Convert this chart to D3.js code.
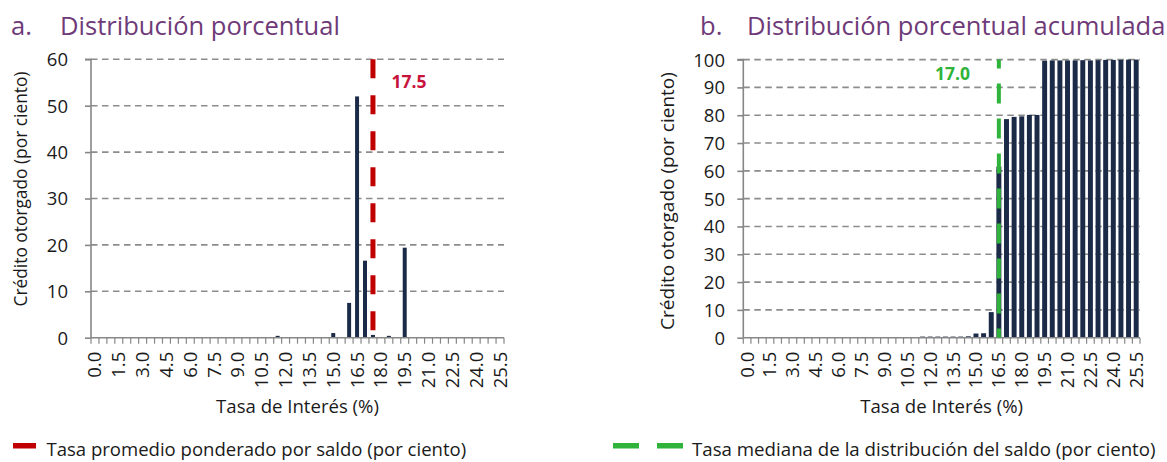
<!DOCTYPE html>
<html><head><meta charset="utf-8">
<script src="https://cdn.jsdelivr.net/npm/d3@7"></script>
<style>
body{margin:0;background:#fff}
svg{display:block}
text{font-family:"Open Sans",sans-serif;fill:#1a1a1a}
</style>
</head><body>
<svg id="c" width="1167" height="462"></svg>
<script>
// ---------- DATA ----------
const categories = ["0.0","0.5","1.0","1.5","2.0","2.5","3.0","3.5","4.0","4.5","5.0","5.5","6.0","6.5","7.0","7.5","8.0","8.5","9.0","9.5","10.0","10.5","11.0","11.5","12.0","12.5","13.0","13.5","14.0","14.5","15.0","15.5","16.0","16.5","17.0","17.5","18.0","18.5","19.0","19.5","20.0","20.5","21.0","21.5","22.0","22.5","23.0","23.5","24.0","24.5","25.0","25.5"];
const tickLabels = ["0.0","1.5","3.0","4.5","6.0","7.5","9.0","10.5","12.0","13.5","15.0","16.5","18.0","19.5","21.0","22.5","24.0","25.5"];
// a. Distribución porcentual
const pctValues = [0,0,0,0,0,0,0,0,0,0,0,0,0,0,0,0,0,0,0,0,0,0,0,0.4,0,0,0,0,0,0,1.0,0,7.5,52.0,16.6,0.6,0.1,0.4,0,19.4,0,0,0,0,0,0,0,0.1,0,0,0,0];
// b. Distribución porcentual acumulada
const cumValues = [0,0,0,0,0,0,0,0,0,0,0,0,0,0,0,0,0,0,0,0,0,0,0,0.4,0.4,0.4,0.4,0.4,0.4,0.5,1.5,1.6,9.2,61.5,78.6,79.4,79.6,80.1,80.1,99.6,99.7,99.7,99.7,99.7,99.8,99.7,99.8,99.9,99.9,99.9,100,100];
const pctTicks = [0,10,20,30,40,50,60];
const cumTicks = [0,10,20,30,40,50,60,70,80,90,100];
const meanCategory = "17.5", meanLabel = "17.5";
const medianCategory = "16.5", medianLabel = "17.0";
const titleA = ["a.","Distribución porcentual"];
const titleB = ["b.","Distribución porcentual acumulada"];
const yTitle = "Crédito otorgado (por ciento)";
const xTitle = "Tasa de Interés (%)";
const legendMean = "Tasa promedio ponderado por saldo (por ciento)";
const legendMedian = "Tasa mediana de la distribución del saldo (por ciento)";

// ---------- STYLE ----------
const BAR = "#1b2a47", AXIS = "#878787", GRID = "#8c8c8c";
const RED = "#c00000", REDTXT = "#c8143c", GREEN = "#2fb33a", PURPLE = "#6e3a78";
const svg = d3.select("#c");

function fit(sel, target){
  const w = sel.node().getComputedTextLength();
  const fs = parseFloat(sel.attr("font-size"));
  sel.attr("font-size", fs*target/w);
  return fs*target/w;
}

function panel(o){
  const g = svg.append("g");
  const slot = d3.scaleBand().domain(categories).range([o.x0,o.x1]);
  const bars = d3.scaleBand().domain(categories).range([o.x0,o.x1]).paddingInner(o.pad).paddingOuter(o.pad/2);
  const y = d3.scaleLinear().domain([0,o.max]).range([o.yb,o.yt]);

  // grid
  g.append("g").selectAll("line").data(o.ticks.filter(t=>t>0)).join("line")
    .attr("x1",o.x0).attr("x2",o.x1).attr("y1",d=>y(d)).attr("y2",d=>y(d))
    .attr("stroke",GRID).attr("stroke-width",1.6).attr("stroke-dasharray","6.5,4.5");

  // bars
  g.append("g").selectAll("rect").data(categories.map((c,i)=>({c,v:o.values[i]}))).join("rect")
    .attr("x",d=>bars(d.c)).attr("width",bars.bandwidth())
    .attr("y",d=>y(d.v)).attr("height",d=>y(0)-y(d.v)).attr("fill",BAR);

  // y axis
  const ya = g.append("g").attr("transform",`translate(${o.x0},0)`)
    .call(d3.axisLeft(y).tickValues(o.ticks).tickSize(6).tickFormat(d3.format("d")));
  ya.select(".domain").attr("stroke",AXIS).attr("stroke-width",1.6).attr("d",`M-6,${y(o.max)}H0V${y(0)}`);
  ya.selectAll(".tick line").attr("stroke",AXIS).attr("stroke-width",1.6);
  ya.selectAll(".tick text").attr("x",-(o.x0-o.ylabX)).attr("font-size",18.5)
    .attr("font-family","Open Sans").attr("fill","#1a1a1a").attr("dy","0.35em");

  // x axis line + boundary ticks
  const bounds = categories.map(c=>slot(c)).concat([o.x1]);
  g.append("line").attr("x1",o.x0).attr("x2",o.x1).attr("y1",y(0)).attr("y2",y(0))
    .attr("stroke",AXIS).attr("stroke-width",1.6);
  g.append("g").selectAll("line").data(bounds).join("line")
    .attr("x1",d=>d).attr("x2",d=>d).attr("y1",y(0)).attr("y2",y(0)+6)
    .attr("stroke",AXIS).attr("stroke-width",1.2);
  g.append("g").selectAll("text").data(tickLabels).join("text")
    .attr("transform",d=>`translate(${slot(d)+slot.bandwidth()/2},${y(0)+14}) rotate(-90)`)
    .attr("text-anchor","end").attr("dy","0.35em").attr("font-size",18.5).attr("fill","#1a1a1a")
    .text(d=>d);

  // axis titles
  const xt = g.append("text").attr("x",(o.x0+o.x1)/2).attr("y",413).attr("text-anchor","middle")
    .attr("font-size",18).text(xTitle);
  fit(xt,o.xTitleW);
  const yt = g.append("text").attr("transform",`translate(${o.yTitleX},${o.yTitleY}) rotate(-90)`)
    .attr("text-anchor","middle").attr("dy","0.35em").attr("font-size",18).text(yTitle);
  fit(yt,o.yTitleW);

  // reference line
  const lx = slot(o.refCat)+slot.bandwidth()/2;
  g.append("line").attr("x1",lx).attr("x2",lx).attr("y1",y(o.max)).attr("y2",y(0))
    .attr("stroke",o.refColor).attr("stroke-width",o.refW).attr("stroke-dasharray",o.refDash)
    .attr("stroke-dashoffset",o.refOff);
  g.append("text").attr("x",o.refLabX).attr("y",o.refLabY).attr("font-size",17.5).attr("font-weight",700)
    .style("fill",o.refTxt).text(o.refLabel);

  // title
  const t1 = g.append("text").attr("x",o.titleX1).attr("y",35).attr("font-size",25).style("fill",PURPLE).text(o.title[0]);
  const t2 = g.append("text").attr("x",o.titleX2).attr("y",35).attr("font-size",25).style("fill",PURPLE).text(o.title[1]);
  return {t1,t2};
}

const A = panel({x0:91,x1:504,yt:59.3,yb:337.7,max:60,ticks:pctTicks,values:pctValues,pad:0.5,ylabX:68,
  xTitleW:163,yTitleX:21,yTitleY:189,yTitleW:235,refCat:meanCategory,refColor:RED,refW:5,refDash:"19,17",refOff:0,
  refLabX:391.5,refLabY:87.5,refTxt:REDTXT,refLabel:meanLabel,title:titleA,titleX1:11,titleX2:60});
const B = panel({x0:743.3,x1:1140,yt:59.6,yb:337.7,max:100,ticks:cumTicks,values:cumValues,pad:0.35,ylabX:725,
  xTitleW:163,yTitleX:667,yTitleY:201,yTitleW:258,refCat:medianCategory,refColor:GREEN,refW:4,refDash:"20,15",refOff:11,
  refLabX:935,refLabY:80,refTxt:GREEN,refLabel:medianLabel,title:titleB,titleX1:700,titleX2:747});
const fsT = fit(A.t2,280);
B.t2.attr("font-size",fsT); A.t1.attr("font-size",fsT); B.t1.attr("font-size",fsT);

// legend
const lg = svg.append("g");
lg.append("rect").attr("x",13).attr("y",443).attr("width",23).attr("height",5.5).attr("fill",RED);
const l1 = lg.append("text").attr("x",46.5).attr("y",456).attr("font-size",18).text(legendMean);
fit(l1,420);
lg.selectAll(".gd").data([613,657]).join("rect").attr("class","gd")
  .attr("x",d=>d).attr("y",443).attr("width",26).attr("height",5.5).attr("fill",GREEN);
const l2 = lg.append("text").attr("x",692).attr("y",456).attr("font-size",18).text(legendMedian);
fit(l2,464);
</script>
</body></html>
